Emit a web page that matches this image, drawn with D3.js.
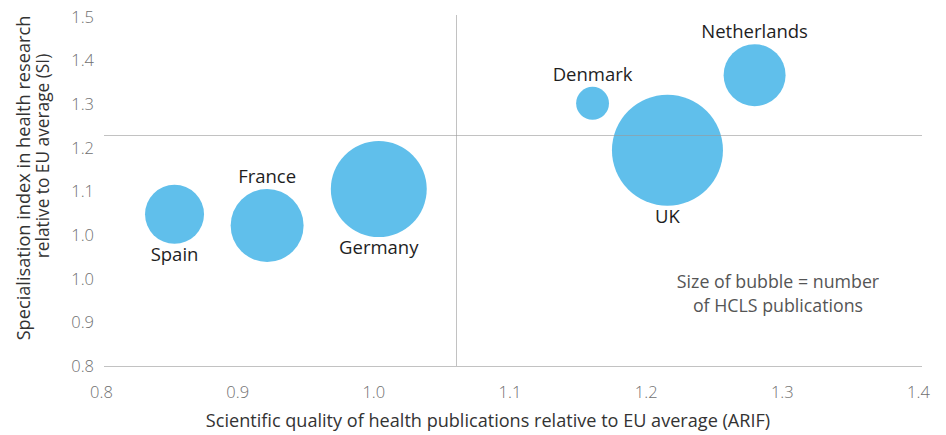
<!DOCTYPE html>
<html>
<head>
<meta charset="utf-8">
<script src="https://cdn.jsdelivr.net/npm/d3@7/dist/d3.min.js"></script>
<style>
  html, body { margin: 0; padding: 0; background: #fff; }
  svg { display: block; font-family: "Open Sans", "Noto Sans", sans-serif; }
</style>
</head>
<body>
<svg id="chart" width="946" height="435"></svg>
<script>
// Health research: scientific quality (ARIF) vs specialisation (SI), bubble = HCLS publications
const countries    = ["Spain", "France", "Germany", "Denmark", "UK", "Netherlands"];
const arif         = [0.854, 0.922, 1.004, 1.161, 1.216, 1.280];
const si           = [1.088, 1.065, 1.140, 1.317, 1.220, 1.375];
const publications = [8700, 13300, 23000, 2700, 30800, 9600];
const labelSide    = ["below", "above", "below", "above", "below", "above"];

const xTickValues = [0.8, 0.9, 1.0, 1.1, 1.2, 1.3, 1.4];
const yTickValues = [0.775, 0.865, 0.955, 1.045, 1.135, 1.225, 1.315, 1.405, 1.495];

// EU-average reference lines
const refArif = 1.0605;
const refSi = 1.252;

const xTitle = "Scientific quality of health publications relative to EU average (ARIF)";
const yTitleLines = ["Specialisation index in health research", "relative to EU average (SI)"];
const noteLines = ["Size of bubble = number", "of HCLS publications"];

const svg = d3.select("#chart");
const plotLeft = 104, plotRight = 922, plotTop = 17, plotBottom = 366;

const x = d3.scaleLinear().domain([0.8, 1.4]).range([101, 918]);
const y = d3.scaleLinear().domain([yTickValues[0], yTickValues[yTickValues.length - 1]])
  .range([plotBottom, plotTop]);
const r = d3.scaleSqrt().domain([0, d3.max(publications)]).range([0, 55.5]);

const data = countries.map((c, i) => ({
  name: c, arif: arif[i], si: si[i], pubs: publications[i], side: labelSide[i]
}));

// Axes (labels only)
const fmt = d3.format(".1f");
const gx = svg.append("g")
  .attr("transform", `translate(0,${plotBottom})`)
  .call(d3.axisBottom(x).tickValues(xTickValues).tickFormat(fmt).tickSize(0).tickPadding(20));
const gy = svg.append("g")
  .attr("transform", `translate(${plotLeft},0)`)
  .call(d3.axisLeft(y).tickValues(yTickValues).tickFormat(fmt).tickSize(0).tickPadding(10));
[gx, gy].forEach(g => {
  g.select(".domain").remove();
  g.selectAll("text")
    .attr("font-family", "'Open Sans', sans-serif")
    .attr("font-size", 16.5)
    .attr("font-weight", 300)
    .attr("fill", "#707070");
});

// Bubbles
svg.append("g")
  .selectAll("circle")
  .data(data)
  .join("circle")
  .attr("cx", d => x(d.arif))
  .attr("cy", d => y(d.si))
  .attr("r", d => r(d.pubs))
  .attr("fill", "#60bfeb");

// Baseline and reference lines
const lines = svg.append("g")
  .attr("stroke", "#9a9a9a")
  .attr("stroke-opacity", 0.6)
  .attr("stroke-width", 1);
lines.append("line")
  .attr("x1", plotLeft).attr("x2", plotRight)
  .attr("y1", y(yTickValues[0]) + 0.5).attr("y2", y(yTickValues[0]) + 0.5);
lines.append("line")
  .attr("x1", plotLeft).attr("x2", plotRight)
  .attr("y1", Math.round(y(refSi)) + 0.5).attr("y2", Math.round(y(refSi)) + 0.5);
lines.append("line")
  .attr("x1", Math.round(x(refArif)) + 0.5).attr("x2", Math.round(x(refArif)) + 0.5)
  .attr("y1", plotTop - 2).attr("y2", plotBottom);

// Country labels
svg.append("g")
  .selectAll("text")
  .data(data)
  .join("text")
  .attr("x", d => x(d.arif))
  .attr("y", d => d.side === "above"
    ? y(d.si) - r(d.pubs) - 6
    : y(d.si) + r(d.pubs) + 17)
  .attr("text-anchor", "middle")
  .attr("font-size", 18.5)
  .attr("fill", "#1e1e1e")
  .text(d => d.name);

// Note on bubble size
svg.append("text")
  .attr("text-anchor", "middle")
  .attr("font-size", 17.8)
  .attr("fill", "#555")
  .selectAll("tspan")
  .data(noteLines)
  .join("tspan")
  .attr("x", 778)
  .attr("y", (d, i) => 288 + i * 24)
  .text(d => d);

// Axis titles
svg.append("text")
  .attr("x", 488).attr("y", 427)
  .attr("text-anchor", "middle")
  .attr("font-size", 18.1)
  .attr("fill", "#333")
  .text(xTitle);

const yTitleCenters = [178, 156];
const yTitleSizes = [18.2, 17.3];
svg.append("g")
  .selectAll("text")
  .data(yTitleLines)
  .join("text")
  .attr("transform", (d, i) => `translate(${30 + i * 19},${yTitleCenters[i]}) rotate(-90)`)
  .attr("text-anchor", "middle")
  .attr("font-size", (d, i) => yTitleSizes[i])
  .attr("fill", "#333")
  .text(d => d);
</script>
</body>
</html>
